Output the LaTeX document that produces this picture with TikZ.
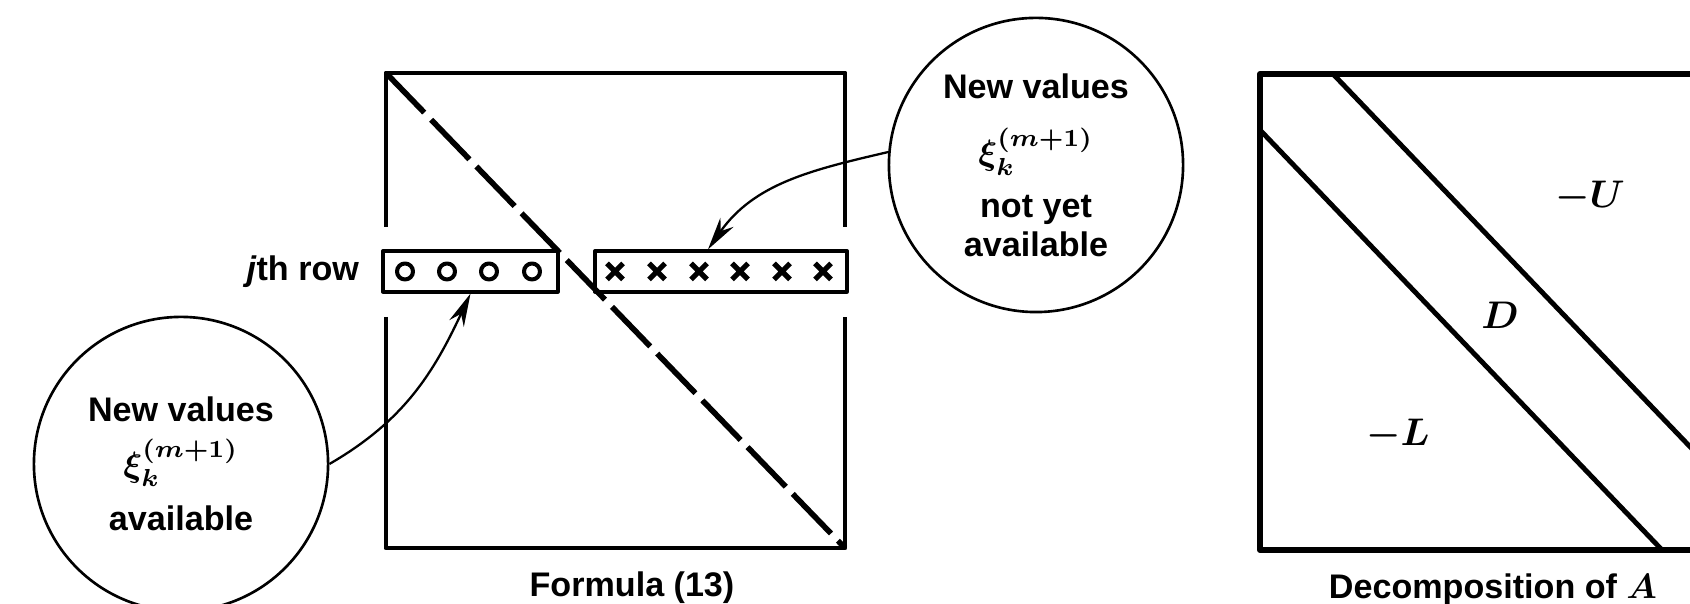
\documentclass[tikz,border=0pt]{standalone}
\usepackage{fontspec}
\setmainfont{Liberation Sans}
\usetikzlibrary{positioning,arrows.meta}

\tikzset{
  labelfont/.style={font=\fontsize{9.7}{11}\selectfont\bfseries\boldmath},
  bubble/.style={draw,circle,line width=0.75pt,minimum size=2.94cm,inner sep=0pt,align=center,labelfont},
  rowbox/.style={draw,line width=0.9pt,minimum height=0.41cm,inner sep=0pt},
  frame/.style={line width=1.4pt},
  pointer/.style={line width=0.65pt,-{Stealth[length=3.3mm,width=1.6mm]}},
}

\begin{document}
\begin{tikzpicture}[x=0.01cm,y=0.01cm,line join=round]
  \clip (0,0) rectangle (1690,604);
  \begin{scope}
    \coordinate (TL) at (386,531); \coordinate (TR) at (845,531);
    \coordinate (BL) at (386,56); \coordinate (BR) at (845,56);
    \draw[frame] (386,377) -- (TL) -- (TR) -- (845,377);
    \draw[frame] (386,287) -- (BL) -- (BR) -- (845,287);
    \draw[line width=1.6pt,dash pattern=on 0.55cm off 0.1cm] (TL) -- (BR);
    \node[rowbox,minimum width=1.75cm] (obox) at (470.5,332.5) {};
    \node[rowbox,minimum width=2.52cm] (xbox) at (721,332.5) {};
    \node[labelfont,left=0.1cm of obox] (jrow) {\textit{j}th row};
    \foreach \x in {405,447,489,532} \draw[line width=1.15pt] (\x,332.5) circle (8);
    \foreach \x in {615,657,699,740,782,823}
      \draw[line width=1.5pt] (\x-8,324.5) -- (\x+8,340.5) (\x-8,340.5) -- (\x+8,324.5);
    \node[bubble] (oldvals) at (181,140) {New values\\[4.5pt] $\xi_k^{(m+1)}$\\[4.5pt] available};
    \node[bubble] (newvals) at (1036,439) {New values\\[8pt] $\xi_k^{(m+1)}$\\[4pt] not yet\\ available};
    \draw[pointer] (oldvals.east) to[out=30,in=-115] (obox.south);
    \draw[pointer] (newvals.175) to[out=193,in=55] ([xshift=-0.13cm]xbox.north);
    \node[labelfont] (formula) at (632,16) {Formula (13)};
  \end{scope}
  \begin{scope}
    \draw[line width=1.7pt] (1260,54) rectangle (1719,530);
    \draw[line width=1.4pt] (1260,474) -- (1662,54);
    \draw[line width=1.4pt] (1333,530) -- (1719,127);
    \node[font=\fontsize{11}{13}\selectfont\boldmath] (upper) at (1590,407) {$-U$};
    \node[font=\fontsize{11}{13}\selectfont\boldmath] (diag) at (1500,289) {$D$};
    \node[font=\fontsize{11}{13}\selectfont\boldmath] (lower) at (1398,169) {$-L$};
    \node[labelfont] (decomp) at (1493,14) {Decomposition of $A$};
  \end{scope}
\end{tikzpicture}
\end{document}
